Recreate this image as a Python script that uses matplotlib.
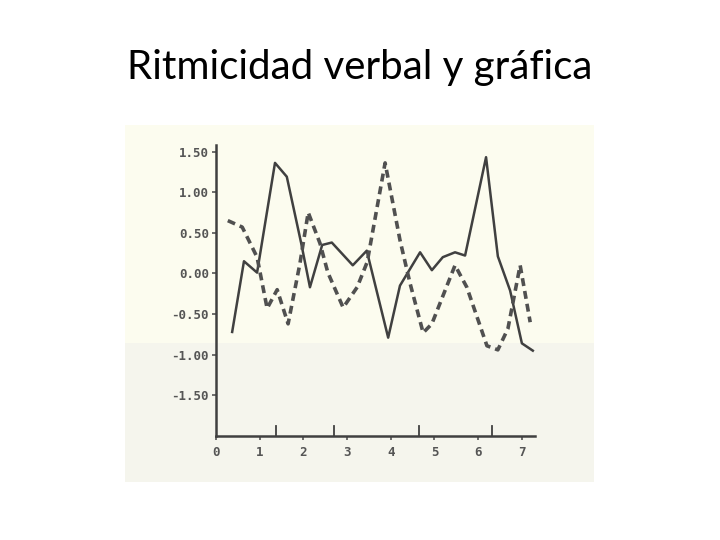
import matplotlib
matplotlib.use("Agg")
import matplotlib.pyplot as plt
from matplotlib.patches import Rectangle

title = "Ritmicidad verbal y gráfica"

# solid series (x, y)
solid_x = [0.37, 0.64, 0.94, 1.35, 1.62, 1.95, 2.15, 2.43, 2.65, 3.13, 3.45, 3.94, 4.21,
           4.67, 4.94, 5.19, 5.47, 5.70, 6.18, 6.45, 6.73, 7.00, 7.25]
solid_y = [-0.72, 0.15, 0.01, 1.36, 1.19, 0.37, -0.17, 0.35, 0.38, 0.10, 0.28, -0.79, -0.15,
           0.26, 0.04, 0.20, 0.26, 0.22, 1.43, 0.21, -0.21, -0.86, -0.95]

# dashed series (x, y)
dash_x = [0.27, 0.60, 0.94, 1.17, 1.40, 1.65, 1.92, 2.11, 2.38, 2.56, 2.91, 3.23, 3.46,
          3.87, 4.21, 4.44, 4.74, 4.94, 5.47, 5.74, 6.20, 6.45, 6.68, 6.96, 7.19]
dash_y = [0.65, 0.57, 0.20, -0.43, -0.20, -0.62, 0.12, 0.75, 0.37, 0.01, -0.42, -0.17, 0.14,
          1.36, 0.41, -0.12, -0.73, -0.62, 0.10, -0.17, -0.89, -0.94, -0.68, 0.10, -0.60]

x_ticks = [0, 1, 2, 3, 4, 5, 6, 7]
y_ticks = [1.5, 1.0, 0.5, 0.0, -0.5, -1.0, -1.5]
y_labels = ["1.50", "1.00", "0.50", "0.00", "-0.50", "-1.00", "-1.50"]
mark_x = [1.37, 2.70, 4.65, 6.32]

fig = plt.figure(figsize=(7.2, 5.4), dpi=100)
fig.patch.set_facecolor("white")

# scanned paper background on its own axes behind the chart
bg = fig.add_axes([0, 0, 1, 1], zorder=-5)
bg.set_xlim(0, 720)
bg.set_ylim(540, 0)
bg.axis("off")
bg.add_patch(Rectangle((125, 125), 469, 218, facecolor="#fcfcef", edgecolor="none"))
bg.add_patch(Rectangle((125, 343), 469, 139, facecolor="#f5f5ed", edgecolor="none"))

fig.text(0.5, 1-68/540, title, ha="center", va="center", fontsize=29,
         family="Lato", color="black")

ax = fig.add_axes([216/720, 1-436/540, (535-216)/720, (436-145)/540], zorder=1)
ax.set_facecolor("none")
ax.plot(solid_x, solid_y, color="#404040", lw=1.8, solid_joinstyle="round")
ax.plot(dash_x, dash_y, color="#505050", lw=2.6, linestyle=(0, (2.2, 1.4)))

for mx in mark_x:
    ax.plot([mx, mx], [-2.0, -1.88], color="#404040", lw=1.3)

ax.set_xlim(0, 7.3)
ax.set_ylim(-2.0, 1.58)
ax.spines["top"].set_visible(False)
ax.spines["right"].set_visible(False)
for s in ("left", "bottom"):
    ax.spines[s].set_color("#404040")
    ax.spines[s].set_linewidth(1.8)
ax.set_xticks(x_ticks)
ax.set_xticklabels([str(v) for v in x_ticks])
ax.set_yticks(y_ticks)
ax.set_yticklabels(y_labels)
ax.tick_params(axis="both", colors="#555555", labelsize=9, length=3, width=1.2)
for lab in ax.get_xticklabels() + ax.get_yticklabels():
    lab.set_family("DejaVu Sans Mono")
    lab.set_color("#555555")
    lab.set_fontweight("bold")
ax.tick_params(axis="y", pad=2)
ax.tick_params(axis="x", pad=4)

fig.savefig("out.png", dpi=100)
